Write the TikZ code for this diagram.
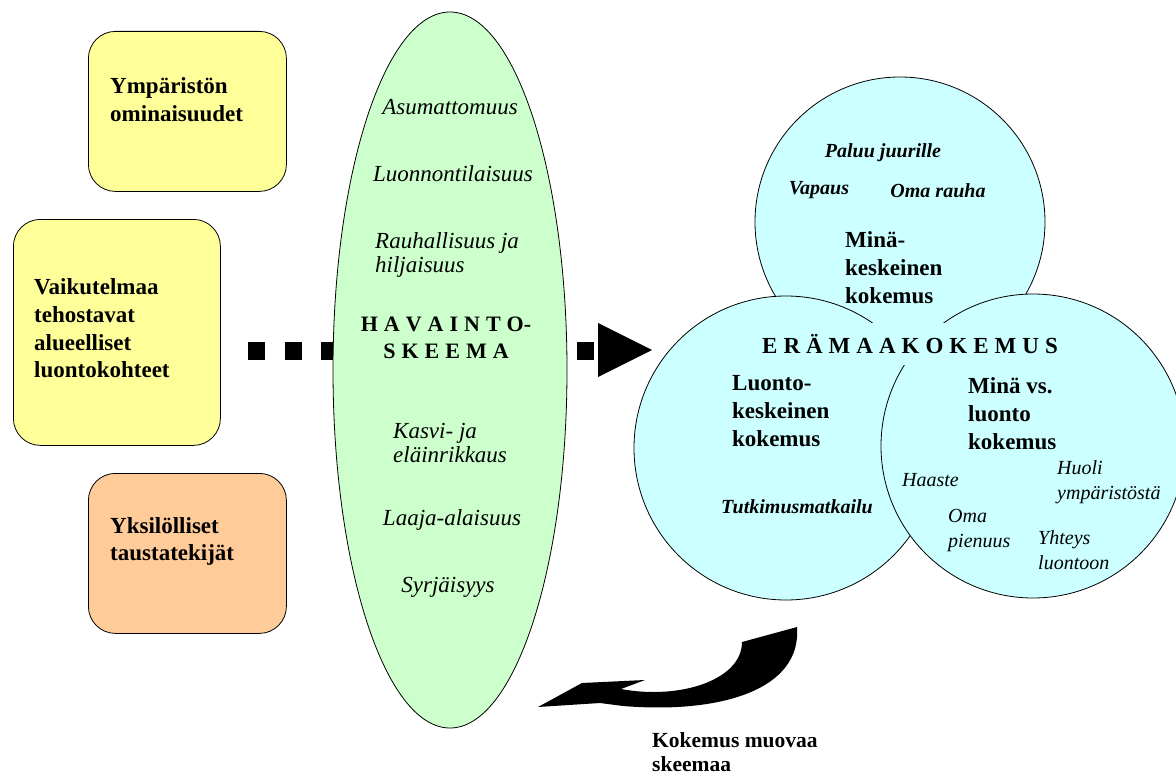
\documentclass[tikz,border=0pt]{standalone}
\usepackage{fontspec}
\setmainfont{Liberation Serif}
\usetikzlibrary{shapes.geometric}
\definecolor{boxyellow}{HTML}{FFFF99}
\definecolor{boxorange}{HTML}{FFCC99}
\definecolor{schemagreen}{HTML}{CCFFCC}
\definecolor{expcyan}{HTML}{CCFFFF}
\newcommand\lsp{\kern6pt}
\tikzset{
  factorbox/.style={draw=black, line width=0.8pt, rounded corners=27pt, anchor=north west, inner sep=0pt},
  boxtext/.style={font={\bfseries\fontsize{23}{27.7}\selectfont}, align=left, inner sep=0pt, anchor=west},
  schematext/.style={font={\itshape\fontsize{23}{24}\selectfont}, align=left, inner sep=0pt},
  bigtext/.style={font={\bfseries\fontsize{22}{27}\selectfont}, align=center, inner sep=0pt},
  kindtext/.style={font={\bfseries\fontsize{23}{28}\selectfont}, align=left, inner sep=0pt, anchor=west},
  bitext/.style={font={\bfseries\itshape\fontsize{20}{23}\selectfont}, inner sep=0pt},
  smalltext/.style={font={\itshape\fontsize{20}{24.5}\selectfont}, align=left, inner sep=0pt, anchor=west},
  experience/.style={circle, draw=black, fill=expcyan, line width=0.8pt, inner sep=0pt},
}
\begin{document}
\begin{tikzpicture}[x=1pt,y=-1pt]
\useasboundingbox (0,0) rectangle (1176,776);

% left boxes
\node[factorbox, fill=boxyellow, minimum width=198pt, minimum height=160pt] (env) at (88,31) {};
\node[factorbox, fill=boxyellow, minimum width=207pt, minimum height=226pt] (sites) at (13,219) {};
\node[factorbox, fill=boxorange, minimum width=198pt, minimum height=160pt] (indiv) at (88,473) {};
\node[boxtext] (envtext) at (110,99.5) {Ympäristön\\ominaisuudet};
\node[boxtext] (sitestext) at (34,328.5) {Vaikutelmaa\\tehostavat\\alueelliset\\luontokohteet};
\node[boxtext] (indivtext) at (110,541.5) {Yksilölliset\\taustatekijät};

% dashed connector (behind the ellipse)
\coordinate (dashstart) at (248,351);
\coordinate (dashend) at (596,351);
\draw[line width=18pt, dash pattern=on 17pt off 19.6pt] (dashstart) -- (dashend);

% schema ellipse
\node[ellipse, draw=black, fill=schemagreen, line width=0.8pt, minimum width=234pt, minimum height=716pt, inner sep=0pt] (schema) at (450,370) {};
\node[schematext] (s1) at (450,107) {Asumattomuus};
\node[schematext] (s2) at (453,174) {Luonnontilaisuus};
\node[schematext, anchor=west] (s3) at (375,255) {Rauhallisuus ja\\hiljaisuus};
\node[bigtext] (schematitle) at (446,338) {H\lsp A\lsp V\lsp A\lsp I\lsp N\lsp T\lsp O-\\S\lsp K\lsp E\lsp E\lsp M\lsp A};
\node[schematext, anchor=west] (s4) at (393,443) {Kasvi- ja\\eläinrikkaus};
\node[schematext] (s5) at (452,520) {Laaja-alaisuus};
\node[schematext] (s6) at (448,587) {Syrjäisyys};

% experience circles
\node[experience, minimum size=290pt] (self) at (900,222) {};
\node[experience, minimum size=304pt] (nature) at (786,448) {};
\node[experience, minimum size=304pt] (selfnature) at (1033,446) {};

% arrowhead of dashed connector
\fill (598,323) -- (652,350) -- (598,377) -- cycle;

% title with covering box
\node[fill=expcyan, minimum width=310pt, minimum height=42pt, inner sep=0pt, font={\bfseries\fontsize{23}{27}\selectfont}] (wild) at (910,344) {E\lsp R\lsp Ä\lsp M\lsp A\lsp A\lsp K\lsp O\lsp K\lsp E\lsp M\lsp U\lsp S};

% circle texts
\node[bitext] (t1) at (883,153) {Paluu juurille};
\node[bitext] (t2) at (819,190) {Vapaus};
\node[bitext] (t3) at (938,191) {Oma rauha};
\node[kindtext] (selfkind) at (845,268) {Minä-\\keskeinen\\kokemus};
\node[kindtext] (naturekind) at (732,411) {Luonto-\\keskeinen\\kokemus};
\node[kindtext] (selfnaturekind) at (968,413.5) {Minä vs.\\luonto\\kokemus};
\node[bitext] (t4) at (797,507) {Tutkimusmatkailu};
\node[smalltext] (t5) at (902,480) {Haaste};
\node[smalltext] (t6) at (1057,482) {Huoli\\ympäristöstä};
\node[smalltext] (t7) at (948,530.5) {Oma\\pienuus};
\node[smalltext] (t8) at (1038,550) {Yhteys\\luontoon};

% curved feedback arrow
\fill (538,707) -- (582,683) -- (645,680) -- (621,689)
  .. controls (680,700) and (742,680) .. (742,642)
  -- (797,627)
  .. controls (802,690) and (720,714) .. (623,706)
  -- (600,703) -- cycle;
\node[boxtext, font={\bfseries\fontsize{21.5}{24}\selectfont}] (feedback) at (652,752) {Kokemus muovaa\\skeemaa};
\end{tikzpicture}
\end{document}
